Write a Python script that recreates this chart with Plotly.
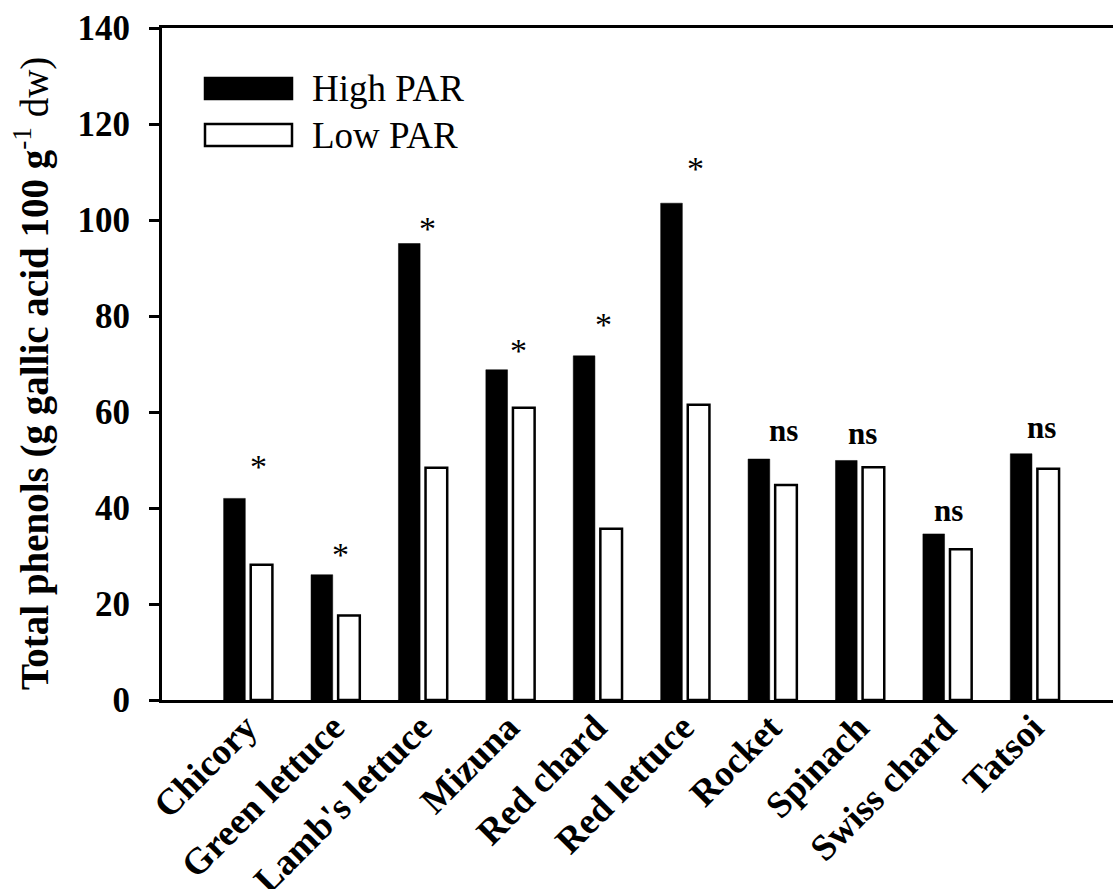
import plotly.graph_objects as go

categories = ["Chicory", "Green lettuce", "Lamb's lettuce", "Mizuna", "Red chard",
              "Red lettuce", "Rocket", "Spinach", "Swiss chard", "Tatsoi"]
high_par = [42.0, 26.1, 95.1, 68.8, 71.7, 103.5, 50.2, 49.9, 34.6, 51.3]
low_par = [28.2, 17.6, 48.4, 60.9, 35.7, 61.5, 44.8, 48.5, 31.4, 48.2]
sig_labels = ["*", "*", "*", "*", "*", "*", "ns", "ns", "ns", "ns"]
sig_y = [49.8, 31.5, 99.4, 74.0, 79.5, 112.0, 56.2, 55.6, 39.5, 56.7]
sig_dx = [10, 5, 5, 8, 6, 10, 11, 3, 1, 7]
y_ticks = [0, 20, 40, 60, 80, 100, 120, 140]

FONT = "Liberation Serif, Times New Roman, serif"

fig = go.Figure()
fig.add_trace(go.Bar(x=categories, y=high_par, name="High PAR",
                     marker=dict(color="black", line=dict(color="black", width=0.5))))
fig.add_trace(go.Bar(x=categories, y=low_par, name="Low PAR",
                     marker=dict(color="white", line=dict(color="black", width=2.5))))

annotations = []
for c, lab, yv, dx in zip(categories, sig_labels, sig_y, sig_dx):
    is_star = lab == "*"
    annotations.append(dict(
        x=c, y=yv, xref="x", yref="y", text=lab if is_star else "<b>" + lab + "</b>",
        showarrow=False, xshift=dx, yshift=-6 if is_star else 0,
        font=dict(family=FONT, size=34 if is_star else 31, color="black"),
        xanchor="center", yanchor="middle"))

# y-axis title
annotations.append(dict(
    x=-0.137, y=0.486, xref="paper", yref="paper", showarrow=False, textangle=-90,
    text="<b>Total phenols (g gallic acid 100 g</b><sup>-1</sup> dw)",
    font=dict(family=FONT, size=39, color="black"), xanchor="center", yanchor="middle"))

# legend entries
leg_x0, leg_x1 = 43 / 951, 130 / 951
legend_rows = [("High PAR", "black", 0.8943, 0.9256), ("Low PAR", "white", 0.8244, 0.8571)]
shapes = []
for name, col, y0, y1 in legend_rows:
    shapes.append(dict(type="rect", xref="paper", yref="paper", x0=leg_x0, x1=leg_x1,
                       y0=y0, y1=y1, fillcolor=col, line=dict(color="black", width=2.5)))
    annotations.append(dict(x=148 / 951, y=(y0 + y1) / 2, xref="paper", yref="paper",
                            text=name, showarrow=False, xanchor="left", yanchor="middle",
                            font=dict(family=FONT, size=37, color="black")))

fig.update_layout(
    width=1113, height=889,
    margin=dict(l=162, r=0, t=28, b=189, pad=0, autoexpand=False),
    paper_bgcolor="white", plot_bgcolor="white",
    barmode="group", bargap=0.38, bargroupgap=0.2,
    showlegend=False,
    font=dict(family=FONT, color="black"),
    annotations=annotations, shapes=shapes,
    xaxis=dict(range=[-0.984, 9.896], showline=True, linecolor="black", linewidth=3,
               mirror=True, ticks="", showgrid=False, zeroline=False, tickangle=-45,
               automargin=False, ticklabelstandoff=-12, ticklabelshift=-2,
               tickfont=dict(family=FONT, size=37, color="black", weight="bold")),
    yaxis=dict(range=[0, 140], tickvals=y_ticks, showline=True, linecolor="black",
               linewidth=3, ticks="outside", ticklen=10, tickwidth=3, tickcolor="black",
               showgrid=False, zeroline=False, ticklabelstandoff=12, automargin=False,
               tickfont=dict(family=FONT, size=35, color="black", weight="bold")),
)

fig.write_html("out.html")
